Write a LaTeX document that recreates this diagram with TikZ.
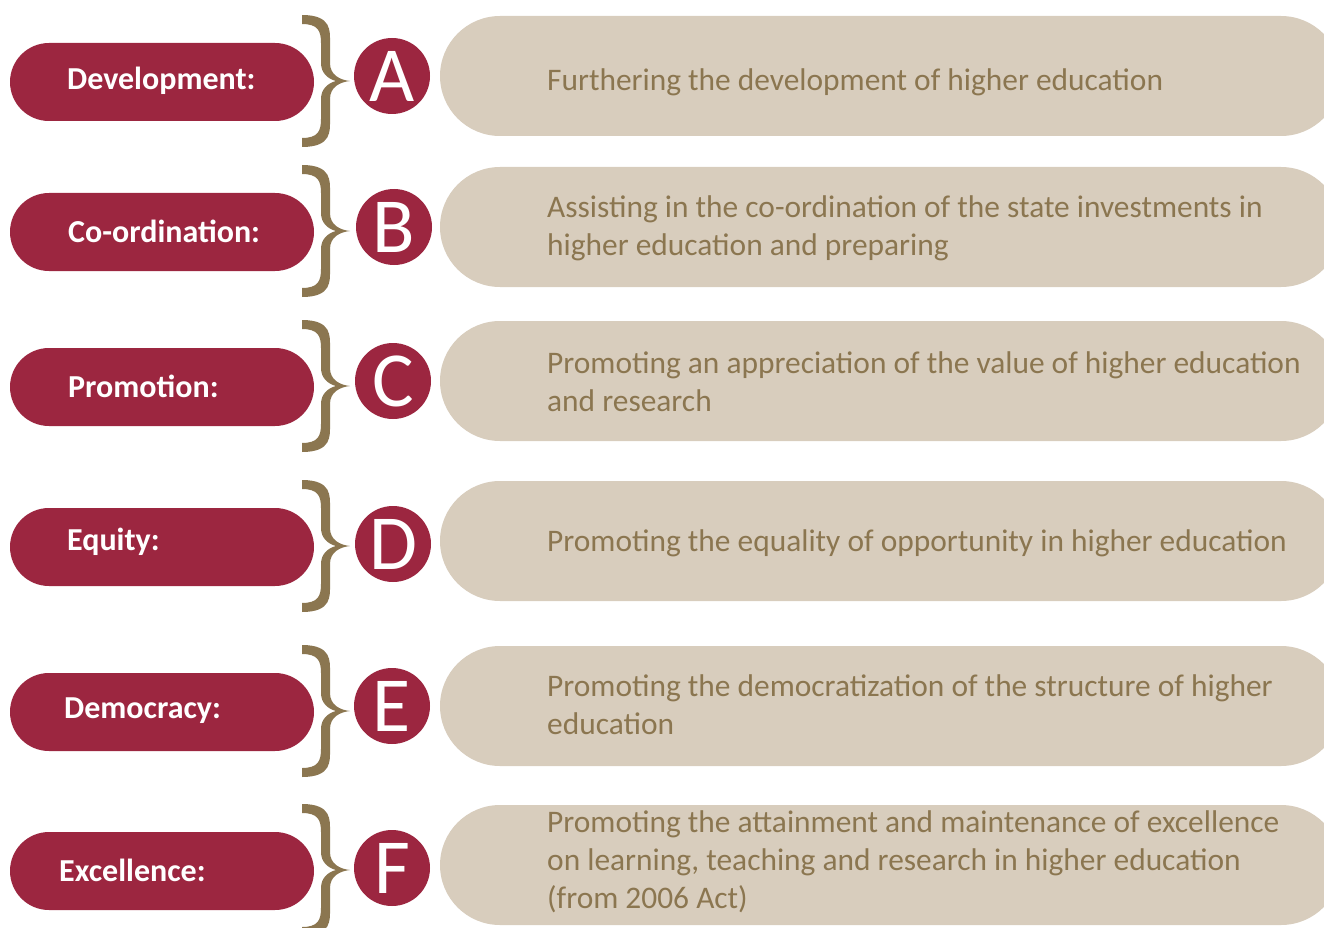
\documentclass[tikz,border=0pt]{standalone}
\usepackage{fontspec}
\setmainfont{Carlito}
\definecolor{pillred}{HTML}{9C2640}
\definecolor{pillbeige}{HTML}{D8CDBD}
\definecolor{bracebrown}{HTML}{8B7650}
\tikzset{
  redpill/.style={fill=pillred, rounded corners=39pt, minimum width=304pt, minimum height=78pt, inner sep=0pt},
  beigepill/.style={fill=pillbeige, rounded corners=60pt, minimum width=901pt, minimum height=120pt, inner sep=0pt},
  letterdot/.style={circle, fill=pillred, minimum size=76pt, inner sep=0pt, text=white, font=\fontsize{78}{78}\selectfont},
  labeltext/.style={anchor=west, inner sep=0pt, text=white, font=\fontsize{32}{32}\selectfont\bfseries},
  desctext/.style={anchor=west, inner sep=0pt, align=left, text=bracebrown, font=\fontsize{31.4}{38}\selectfont},
  bracepic/.pic={
    \fill[bracebrown] (-46,-66) .. controls (-16,-66) and (-18,-50) .. (-18,-38) -- (-18,-18)
      .. controls (-18,-6) and (-8,-1) .. (2,0)
      .. controls (-8,1) and (-18,6) .. (-18,18) -- (-18,38)
      .. controls (-18,50) and (-16,66) .. (-46,66) -- (-46,57)
      .. controls (-30,57) and (-27,50) .. (-27,38) -- (-27,18)
      .. controls (-27,8) and (-20,2) .. (-12,0)
      .. controls (-20,-2) and (-27,-8) .. (-27,-18) -- (-27,-38)
      .. controls (-27,-50) and (-30,-57) .. (-46,-57) -- cycle;
  }
}
\begin{document}
\begin{tikzpicture}[x=1pt,y=-1pt]
\useasboundingbox (0,0) rectangle (1324,928);
\clip (0,0) rectangle (1324,928);
% beige pills
\node[beigepill] (bA) at (890.5,76) {};
\node[beigepill] (bB) at (890.5,227) {};
\node[beigepill] (bC) at (890.5,381) {};
\node[beigepill] (bD) at (890.5,541) {};
\node[beigepill] (bE) at (890.5,706) {};
\node[beigepill] (bF) at (890.5,865) {};
% red pills
\node[redpill] (rA) at (162,82) {};
\node[redpill] (rB) at (162,232) {};
\node[redpill] (rC) at (162,387) {};
\node[redpill] (rD) at (162,547) {};
\node[redpill] (rE) at (162,712) {};
\node[redpill] (rF) at (162,871) {};
% labels
\node[labeltext] (lA) at (67,81) {Development:};
\node[labeltext] (lB) at (68,231) {Co-ordination:};
\node[labeltext] (lC) at (68,386) {Promotion:};
\node[labeltext] (lD) at (67,542) {Equity:};
\node[labeltext] (lE) at (64,711) {Democracy:};
\node[labeltext] (lF) at (59,870) {Excellence:};
% braces
\pic at (348,81) {bracepic};
\pic at (348,231) {bracepic};
\pic at (348,386) {bracepic};
\pic at (348,546) {bracepic};
\pic at (348,711) {bracepic};
\pic at (348,870) {bracepic};
% letter circles
\node[letterdot] (cA) at (392,76) {A};
\node[letterdot] (cB) at (394,227) {B};
\node[letterdot] (cC) at (393,381) {C};
\node[letterdot] (cD) at (393,544) {D};
\node[letterdot] (cE) at (392,706) {E};
\node[letterdot] (cF) at (392,868) {F};
% descriptions
\node[desctext] (dA) at (547,82) {Furthering the development of higher education};
\node[desctext] (dB) at (547,228) {Assisting in the co-ordination of the state investments in\\higher education and preparing};
\node[desctext] (dC) at (547,382) {Promoting an appreciation of the value of higher education\\and research};
\node[desctext] (dD) at (547,543) {Promoting the equality of opportunity in higher education};
\node[desctext] (dE) at (547,705) {Promoting the democratization of the structure of higher\\education};
\node[desctext] (dF) at (547,862) {Promoting the attainment and maintenance of excellence\\on learning, teaching and research in higher education\\(from 2006 Act)};
\end{tikzpicture}
\end{document}
